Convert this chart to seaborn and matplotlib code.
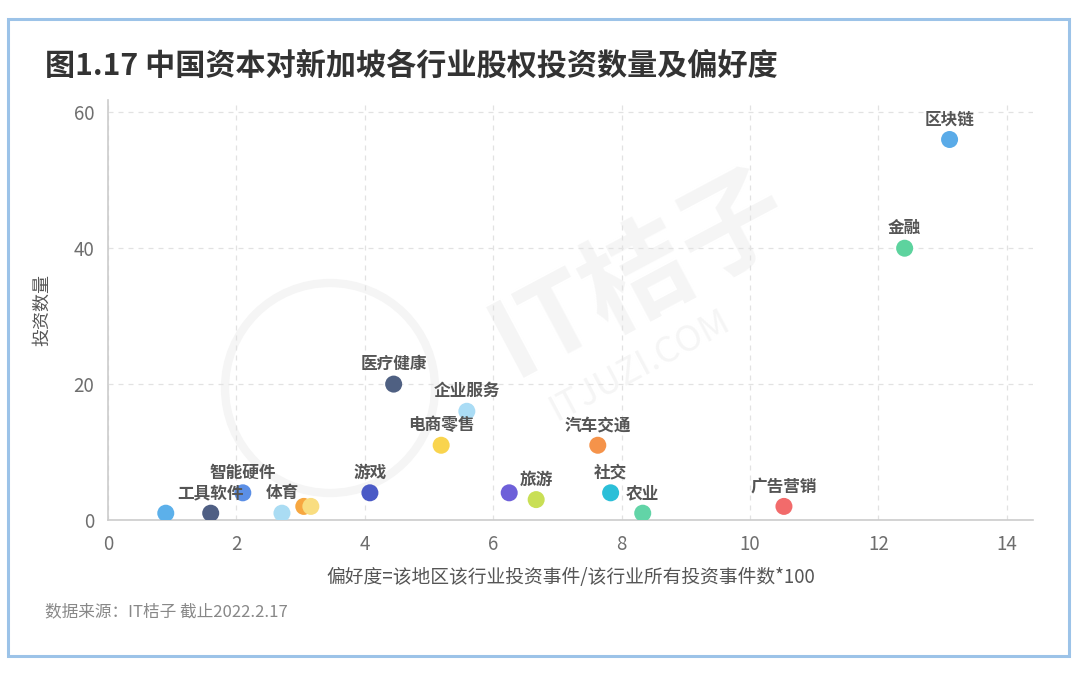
import matplotlib
matplotlib.use("Agg")
import matplotlib.pyplot as plt
import seaborn as sns
import pandas as pd
from matplotlib.patches import Rectangle, Ellipse

# ---- data ----
industries = ["区块链", "金融", "广告营销", "医疗健康", "企业服务", "电商零售", "汽车交通",
              "游戏", "其他", "旅游", "社交", "农业", "智能硬件", "工具软件", "其他2",
              "体育", "其他3", "其他4"]
preference = [13.11, 12.41, 10.53, 4.45, 5.59, 5.19, 7.63,
              4.08, 6.25, 6.67, 7.83, 8.33, 2.10, 1.60, 0.90,
              2.71, 3.05, 3.16]
investments = [56, 40, 2, 20, 16, 11, 11,
               4, 4, 3, 4, 1, 4, 1, 1,
               1, 2, 2]
show_label = [True, True, True, True, True, True, True,
              True, False, True, True, True, True, True, False,
              True, False, False]
colors = ["#5aabe8", "#5dd39e", "#f26b6b", "#4f6082", "#aadcf5", "#f9d44e", "#f5934a",
          "#4a5ac6", "#6e60d9", "#c9df55", "#2bbfd8", "#62d4a7", "#5b8fe6", "#4f5f84", "#5cb0ea",
          "#aadcf3", "#f7a740", "#f9dd80"]

title = "图1.17 中国资本对新加坡各行业股权投资数量及偏好度"
x_label = "偏好度=该地区该行业投资事件/该行业所有投资事件数*100"
y_label = "投资数量"
source = "数据来源：IT桔子 截止2022.2.17"
x_ticks = [0, 2, 4, 6, 8, 10, 12, 14]
y_ticks = [0, 20, 40, 60]

df = pd.DataFrame({"industry": industries, "pref": preference, "count": investments,
                   "label": show_label})

sns.set_theme(style="white")
plt.rcParams["font.family"] = ["Noto Sans CJK SC", "DejaVu Sans"]

fig = plt.figure(figsize=(10.8, 6.74), dpi=100)
ax = fig.add_axes([0.1, 0.2285, 0.8565, 0.623])
ax.set_zorder(2)
ax.patch.set_alpha(0)

# faint watermark (behind the axes)
fig.text(640 / 1080, 1 - 275 / 674, "IT桔子", fontsize=78, color="#f5f5f5",
         rotation=28, ha="center", va="center", fontweight="bold", zorder=-1)
fig.text(640 / 1080, 1 - 365 / 674, "ITJUZI.COM", fontsize=26, color="#f5f5f5",
         rotation=28, ha="center", va="center", zorder=-1)
fig.patches.append(Ellipse((330 / 1080, 1 - 388 / 674), 210 / 1080, 210 / 674,
                           transform=fig.transFigure, fill=False, edgecolor="#f5f5f5",
                           linewidth=6, zorder=-1))

palette = dict(zip(industries, colors))
sns.scatterplot(data=df, x="pref", y="count", hue="industry", palette=palette,
                s=150, edgecolor="none", legend=False, ax=ax, zorder=3)

for _, r in df.iterrows():
    if r["label"]:
        ax.annotate(r["industry"], (r["pref"], r["count"]), xytext=(0, 8),
                    textcoords="offset points", ha="center", va="bottom",
                    fontsize=12, color="#555555", fontweight="bold", zorder=4)

ax.set_xlim(0, 14.41)
ax.set_ylim(0, 61.8)
ax.set_xticks(x_ticks)
ax.set_yticks(y_ticks)
ax.grid(True, linestyle=(0, (4, 4)), color="#e2e2e2", linewidth=0.9)
ax.set_axisbelow(True)
for s in ["top", "right"]:
    ax.spines[s].set_visible(False)
for s in ["left", "bottom"]:
    ax.spines[s].set_color("#cccccc")
    ax.spines[s].set_linewidth(1.2)
ax.tick_params(axis="both", colors="#6e6e6e", labelsize=13.5, length=4, width=0.8,
               direction="out", pad=6)
ax.tick_params(axis="both", color="#cccccc")
ax.set_xlabel(x_label, fontsize=13.5, color="#555555", labelpad=9)
ax.set_ylabel(y_label, fontsize=13, color="#555555", labelpad=16)

fig.text(45 / 1080, 1 - 66 / 674, title, fontsize=21.7, fontweight="bold",
         color="#333333", ha="left", va="center")
fig.text(45 / 1080, 1 - 612 / 674, source, fontsize=12, color="#888888",
         ha="left", va="center")

border = Rectangle((8 / 1080, 1 - 656 / 674), (1069 - 8) / 1080, (656 - 19) / 674,
                   transform=fig.transFigure, fill=False, edgecolor="#9cc3e8",
                   linewidth=2.2)
fig.patches.append(border)

fig.savefig("out.png", dpi=100, facecolor="white")
